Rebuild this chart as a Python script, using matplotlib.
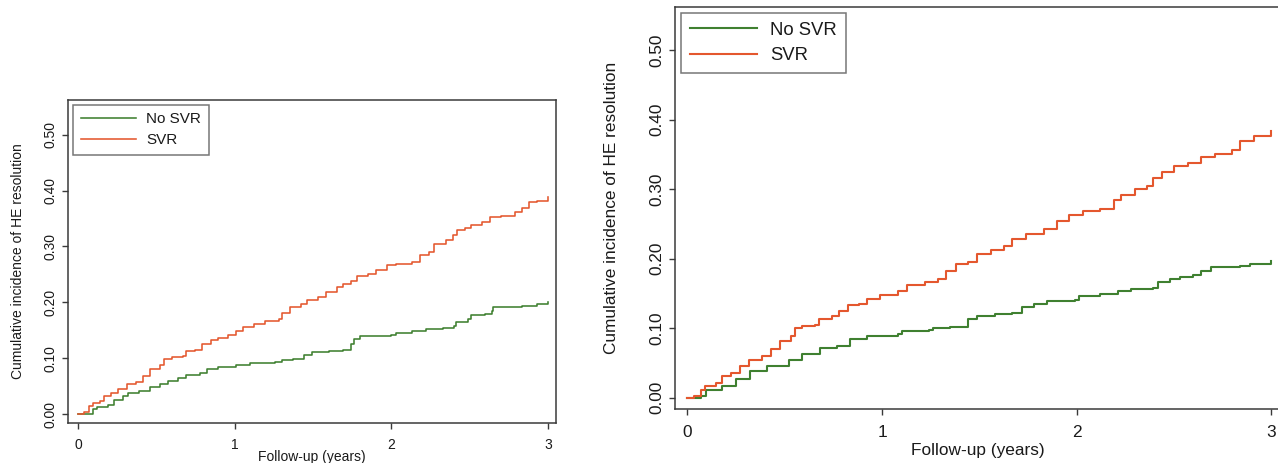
import matplotlib
matplotlib.use("Agg")
import matplotlib.pyplot as plt
from matplotlib.ticker import FixedLocator

plt.rcParams['font.family'] = ['Liberation Sans', 'DejaVu Sans']

# ---------------- data ----------------
# Left panel
left_nosvr_t = [0, 0.06, 0.096, 0.12, 0.19, 0.23, 0.29, 0.32, 0.39, 0.46, 0.52, 0.575, 0.64, 0.69,
                0.78, 0.826, 0.894, 1.01, 1.1, 1.26, 1.3, 1.37, 1.44, 1.49, 1.6, 1.69, 1.74, 1.76,
                1.8, 1.9, 2.0, 2.03, 2.13, 2.22, 2.33, 2.4, 2.41, 2.49, 2.51, 2.6, 2.64, 2.65,
                2.79, 2.83, 2.93, 3.0]
left_nosvr_v = [0, 0, 0.009, 0.012, 0.017, 0.026, 0.033, 0.038, 0.042, 0.048, 0.053, 0.059, 0.065, 0.070,
                0.073, 0.080, 0.084, 0.087, 0.091, 0.093, 0.096, 0.098, 0.106, 0.111, 0.113, 0.115, 0.125, 0.134,
                0.139, 0.140, 0.141, 0.145, 0.148, 0.152, 0.154, 0.157, 0.164, 0.170, 0.178, 0.179, 0.185, 0.191,
                0.191, 0.194, 0.197, 0.200]
left_svr_t = [0, 0.04, 0.073, 0.096, 0.14, 0.165, 0.21, 0.255, 0.31, 0.37, 0.415, 0.46, 0.52, 0.55,
              0.6, 0.667, 0.69, 0.746, 0.79, 0.85, 0.894, 0.96, 1.01, 1.05, 1.12, 1.19, 1.28, 1.3,
              1.35, 1.42, 1.46, 1.53, 1.58, 1.65, 1.69, 1.74, 1.78, 1.85, 1.9, 1.97, 2.03, 2.13,
              2.18, 2.24, 2.27, 2.35, 2.39, 2.42, 2.47, 2.51, 2.58, 2.63, 2.7, 2.79, 2.83, 2.88,
              2.93, 3.0]
left_svr_v = [0, 0.003, 0.014, 0.020, 0.023, 0.033, 0.037, 0.045, 0.053, 0.058, 0.068, 0.080, 0.087, 0.098,
              0.103, 0.104, 0.112, 0.114, 0.125, 0.132, 0.137, 0.141, 0.148, 0.155, 0.161, 0.166, 0.170, 0.181,
              0.191, 0.197, 0.205, 0.209, 0.218, 0.228, 0.232, 0.239, 0.247, 0.251, 0.257, 0.266, 0.269, 0.272,
              0.284, 0.290, 0.305, 0.311, 0.320, 0.329, 0.333, 0.338, 0.344, 0.353, 0.354, 0.361, 0.369, 0.379,
              0.381, 0.388]

# Right panel
right_nosvr_t = [0, 0.056, 0.07, 0.095, 0.18, 0.25, 0.32, 0.41, 0.52, 0.59, 0.68, 0.77, 0.835, 0.925,
                 1.08, 1.1, 1.24, 1.26, 1.35, 1.44, 1.49, 1.58, 1.67, 1.72, 1.78, 1.85, 1.99, 2.01,
                 2.12, 2.21, 2.28, 2.39, 2.42, 2.48, 2.53, 2.6, 2.64, 2.69, 2.84, 2.89, 3.0]
right_nosvr_v = [0, 0, 0.003, 0.012, 0.017, 0.027, 0.039, 0.046, 0.055, 0.063, 0.072, 0.075, 0.084, 0.089,
                 0.092, 0.096, 0.097, 0.101, 0.102, 0.113, 0.118, 0.120, 0.122, 0.130, 0.135, 0.140, 0.141, 0.146,
                 0.149, 0.153, 0.156, 0.158, 0.167, 0.171, 0.174, 0.177, 0.182, 0.188, 0.189, 0.193, 0.197]
right_svr_t = [0, 0.034, 0.068, 0.09, 0.147, 0.18, 0.226, 0.27, 0.316, 0.384, 0.43, 0.474, 0.53, 0.553,
               0.587, 0.655, 0.677, 0.745, 0.78, 0.824, 0.88, 0.925, 0.99, 1.08, 1.13, 1.22, 1.29, 1.33,
               1.38, 1.44, 1.49, 1.56, 1.625, 1.67, 1.74, 1.83, 1.9, 1.96, 2.03, 2.12, 2.19, 2.23,
               2.3, 2.36, 2.39, 2.44, 2.5, 2.57, 2.64, 2.71, 2.8, 2.84, 2.91, 3.0]
right_svr_v = [0, 0.003, 0.012, 0.017, 0.022, 0.031, 0.036, 0.046, 0.055, 0.060, 0.070, 0.082, 0.089, 0.100,
               0.104, 0.105, 0.113, 0.118, 0.125, 0.133, 0.135, 0.142, 0.148, 0.154, 0.162, 0.167, 0.171, 0.183,
               0.193, 0.195, 0.207, 0.212, 0.219, 0.229, 0.236, 0.243, 0.254, 0.263, 0.268, 0.272, 0.284, 0.291,
               0.301, 0.304, 0.316, 0.325, 0.333, 0.337, 0.347, 0.350, 0.357, 0.369, 0.376, 0.383]

x_ticks = [0, 1, 2, 3]
x_tick_labels = ["0", "1", "2", "3"]
y_ticks = [0.0, 0.1, 0.2, 0.3, 0.4, 0.5]
y_tick_labels = ["0.00", "0.10", "0.20", "0.30", "0.40", "0.50"]
series_names = ["No SVR", "SVR"]
x_label = "Follow-up (years)"
y_label = "Cumulative incidence of HE resolution"

GREEN = "#3f8030"
ORANGE = "#e4572e"
SPINE = "#3a3a3a"
TXT = "#1a1a1a"

W, H = 1278, 463
fig = plt.figure(figsize=(W / 100, H / 100), dpi=100)


def px_axes(l, t, r, b):
    return [l / W, 1 - b / H, (r - l) / W, (b - t) / H]


def draw_panel(rect, nos_t, nos_v, svr_t, svr_v, fs, lw, xpad, xlab_y, ylab_x, leg_fs,
               leg_spacing, leg_pad):
    ax = fig.add_axes(rect)
    ax.plot(nos_t, nos_v, drawstyle="steps-post", color=GREEN, lw=lw, label=series_names[0])
    ax.plot(svr_t, svr_v, drawstyle="steps-post", color=ORANGE, lw=lw, label=series_names[1])
    ax.set_xlim(-0.064, 3.05)
    ax.set_ylim(-0.016, 0.562)
    ax.xaxis.set_major_locator(FixedLocator(x_ticks))
    ax.set_xticklabels(x_tick_labels)
    ax.yaxis.set_major_locator(FixedLocator(y_ticks))
    ax.set_yticklabels(y_tick_labels)
    for s in ax.spines.values():
        s.set_color(SPINE)
        s.set_linewidth(1.1)
    ax.tick_params(axis="both", direction="out", length=4.5, width=1.0, color=SPINE,
                   labelsize=fs, labelcolor=TXT, pad=3)
    ax.tick_params(axis="x", pad=xpad)
    for lab in ax.get_yticklabels():
        lab.set_rotation(90)
        lab.set_va("center")
        lab.set_ha("right")
    ax.set_xlabel(x_label, fontsize=fs, color=TXT, va="top")
    ax.xaxis.set_label_coords(0.5, xlab_y)
    ax.set_ylabel(y_label, fontsize=fs, color=TXT)
    ax.yaxis.set_label_coords(ylab_x, 0.5)
    leg = ax.legend(loc="upper left", bbox_to_anchor=(0.010, 0.986), borderaxespad=0,
                    fancybox=False, frameon=True, fontsize=leg_fs, handlelength=3.6,
                    handletextpad=0.7, borderpad=leg_pad, labelspacing=leg_spacing)
    fr = leg.get_frame()
    fr.set_edgecolor("#555555")
    fr.set_linewidth(1.1)
    for line in leg.get_lines():
        line.set_linewidth(lw)
    for t in leg.get_texts():
        t.set_color(TXT)
    return ax


draw_panel(px_axes(68, 100, 556, 423), left_nosvr_t, left_nosvr_v, left_svr_t, left_svr_v,
           fs=10, lw=1.15, xpad=6, xlab_y=-0.085, ylab_x=-0.088,
           leg_fs=11, leg_spacing=0.45, leg_pad=0.5)
draw_panel(px_axes(675, 7, 1281, 409), right_nosvr_t, right_nosvr_v, right_svr_t, right_svr_v,
           fs=12.4, lw=1.5, xpad=7, xlab_y=-0.085, ylab_x=-0.092,
           leg_fs=13.3, leg_spacing=0.45, leg_pad=0.5)

fig.savefig("out.png", dpi=100)
